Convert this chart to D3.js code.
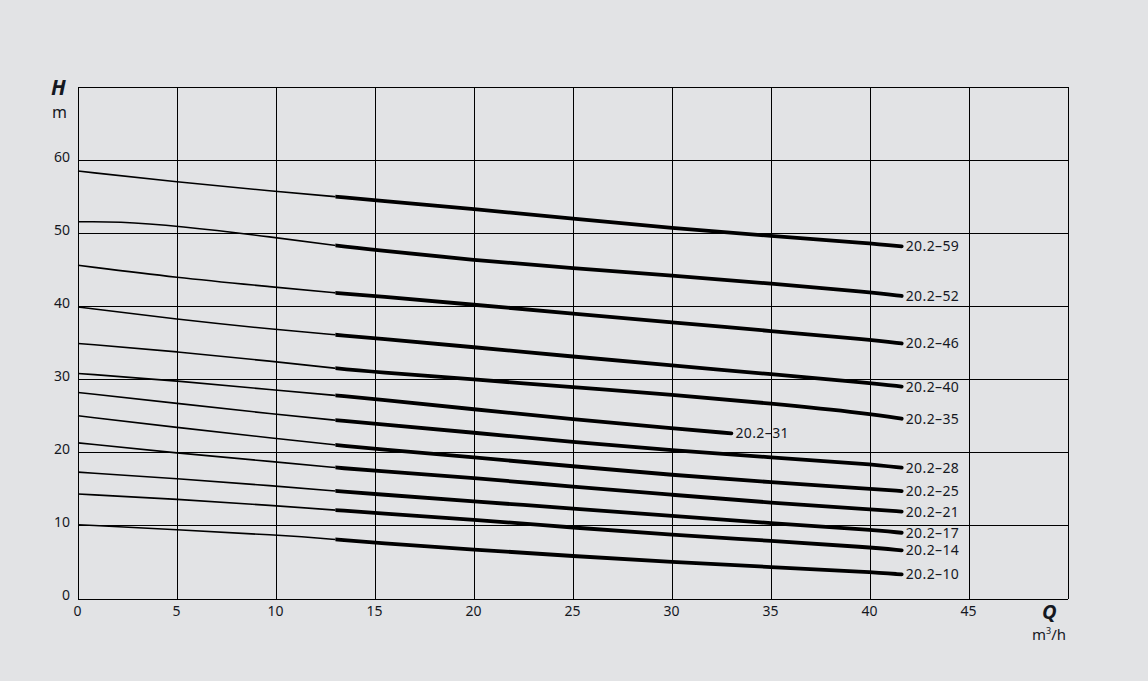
<!DOCTYPE html>
<html>
<head>
<meta charset="utf-8">
<script src="https://cdn.jsdelivr.net/npm/d3@7/dist/d3.min.js"></script>
<style>
  html, body { margin: 0; padding: 0; background: #e2e3e5; }
  svg { display: block; }
  text { font-family: "Noto Sans", "DejaVu Sans", sans-serif; fill: #15181f; }
</style>
</head>
<body>
<svg id="chart" width="1148" height="681"></svg>
<script>
// ---- data (Q in m³/h, H in m) ----
const qStd = [0, 5, 10, 13, 15, 20, 25, 30, 35, 40, 41.6];
const q52  = [0, 2, 5, 10, 13, 15, 20, 25, 30, 35, 40, 41.6];
const q31  = [0, 5, 10, 13, 15, 20, 25, 30, 33];

const h59 = [58.5, 57.0, 55.7, 55.0, 54.5, 53.3, 52.0, 50.7, 49.6, 48.6, 48.2];
const h52 = [51.55, 51.6, 51.0, 49.4, 48.3, 47.7, 46.3, 45.2, 44.2, 43.1, 41.9, 41.4];
const h46 = [45.6, 43.9, 42.6, 41.8, 41.4, 40.2, 39.0, 37.8, 36.6, 35.4, 34.9];
const h40 = [39.9, 38.2, 36.8, 36.1, 35.6, 34.4, 33.1, 31.9, 30.7, 29.5, 29.0];
const h35 = [34.9, 33.8, 32.4, 31.5, 31.0, 30.0, 28.9, 27.9, 26.7, 25.3, 24.6];
const h31 = [30.8, 29.8, 28.5, 27.8, 27.3, 25.9, 24.5, 23.3, 22.6];
const h28 = [28.2, 26.7, 25.2, 24.4, 23.9, 22.7, 21.4, 20.3, 19.3, 18.4, 17.9];
const h25 = [25.0, 23.4, 21.9, 21.0, 20.5, 19.3, 18.1, 16.9, 15.9, 15.0, 14.7];
const h21 = [21.3, 19.9, 18.7, 17.9, 17.5, 16.5, 15.3, 14.2, 13.1, 12.2, 11.9];
const h17 = [17.3, 16.4, 15.4, 14.7, 14.3, 13.3, 12.3, 11.3, 10.3, 9.4, 9.0];
const h14 = [14.3, 13.6, 12.7, 12.1, 11.7, 10.8, 9.7, 8.7, 7.9, 7.0, 6.6];
const h10 = [10.1, 9.4, 8.7, 8.1, 7.6, 6.7, 5.8, 5.0, 4.3, 3.6, 3.3];

const curveNames = ["20.2–59","20.2–52","20.2–46","20.2–40","20.2–35","20.2–31",
                    "20.2–28","20.2–25","20.2–21","20.2–17","20.2–14","20.2–10"];
const curveQ = [qStd, q52, qStd, qStd, qStd, q31, qStd, qStd, qStd, qStd, qStd, qStd];
const curveH = [h59, h52, h46, h40, h35, h31, h28, h25, h21, h17, h14, h10];

const xTicks = [0, 5, 10, 15, 20, 25, 30, 35, 40, 45];
const yTicks = [0, 10, 20, 30, 40, 50, 60];
const xGrid = [0, 5, 10, 15, 20, 25, 30, 35, 40, 45, 50];
const yGrid = [0, 10, 20, 30, 40, 50, 60, 70];
const thickFrom = 13;

// ---- chart ----
const svg = d3.select("#chart");
svg.append("rect").attr("width", 1148).attr("height", 681).attr("fill", "#e2e3e5");

const x = d3.scaleLinear().domain([0, 50]).range([78, 1068]);
const y = d3.scaleLinear().domain([0, 70]).range([598.5, 87]);

// grid
const grid = svg.append("g").attr("stroke", "#000").attr("stroke-width", 1.2).attr("shape-rendering", "crispEdges");
grid.selectAll("line.v").data(xGrid).join("line")
  .attr("x1", d => Math.round(x(d)) + 0.5).attr("x2", d => Math.round(x(d)) + 0.5)
  .attr("y1", y(0)).attr("y2", y(70));
grid.selectAll("line.h").data(yGrid).join("line")
  .attr("y1", d => Math.round(y(d)) + 0.5).attr("y2", d => Math.round(y(d)) + 0.5)
  .attr("x1", x(0)).attr("x2", x(50));

// axes tick labels via d3 axes (no domain/ticks lines)
const xAxis = d3.axisBottom(x).tickValues(xTicks).tickSize(0).tickPadding(0).tickFormat(d3.format("d"));
const gx = svg.append("g").attr("transform", `translate(-1,${y(0) + 4})`).call(xAxis);
gx.select(".domain").remove();
gx.selectAll("text").attr("font-size", 14).attr("dy", "0.95em")
  .style("font-family", '"Noto Sans", sans-serif').attr("fill", "#15181f");

const yAxis = d3.axisLeft(y).tickValues(yTicks).tickSize(0).tickPadding(0).tickFormat(d3.format("d"));
const gy = svg.append("g").attr("transform", `translate(70,-3)`).call(yAxis);
gy.select(".domain").remove();
gy.selectAll("text").attr("font-size", 14)
  .style("font-family", '"Noto Sans", sans-serif').attr("fill", "#15181f");

// axis titles
svg.append("text").attr("x", 51).attr("y", 95).attr("font-size", 21)
  .attr("font-weight", "bold").attr("font-style", "italic").text("H");
svg.append("text").attr("x", 52).attr("y", 118).attr("font-size", 16).text("m");
svg.append("text").attr("x", 1042).attr("y", 619).attr("font-size", 20)
  .attr("font-weight", "bold").attr("font-style", "italic").text("Q");
const qu = svg.append("text").attr("x", 1032).attr("y", 640).attr("font-size", 15);
qu.append("tspan").text("m");
qu.append("tspan").attr("font-size", 9).attr("dy", -6).text("3");
qu.append("tspan").attr("dy", 6).text("/h");

// curves
const line = d3.line().x(d => x(d[0])).y(d => y(d[1])).curve(d3.curveBasis);

svg.append("clipPath").attr("id", "thin").append("rect")
  .attr("x", 0).attr("y", 0).attr("width", x(thickFrom)).attr("height", 681);
svg.append("clipPath").attr("id", "thick").append("rect")
  .attr("x", x(thickFrom)).attr("y", 0).attr("width", 1148 - x(thickFrom)).attr("height", 681);

const curves = curveNames.map((name, i) => ({
  name, pts: curveQ[i].map((q, j) => [q, curveH[i][j]])
}));

const gc = svg.append("g").attr("fill", "none").attr("stroke", "#000");
gc.selectAll("path.thin").data(curves).join("path").attr("class", "thin")
  .attr("d", d => line(d.pts)).attr("stroke-width", 1.6).attr("clip-path", "url(#thin)");
gc.selectAll("path.thick").data(curves).join("path").attr("class", "thick")
  .attr("d", d => line(d.pts)).attr("stroke-width", 3.8).attr("stroke-linecap", "round")
  .attr("clip-path", "url(#thick)");

// labels
svg.append("g").selectAll("text").data(curves).join("text")
  .attr("x", d => x(d.pts[d.pts.length - 1][0]) + 4)
  .attr("y", d => y(d.pts[d.pts.length - 1][1]) + 5)
  .attr("font-size", 14).attr("letter-spacing", 0.4)
  .text(d => d.name);
</script>
</body>
</html>
